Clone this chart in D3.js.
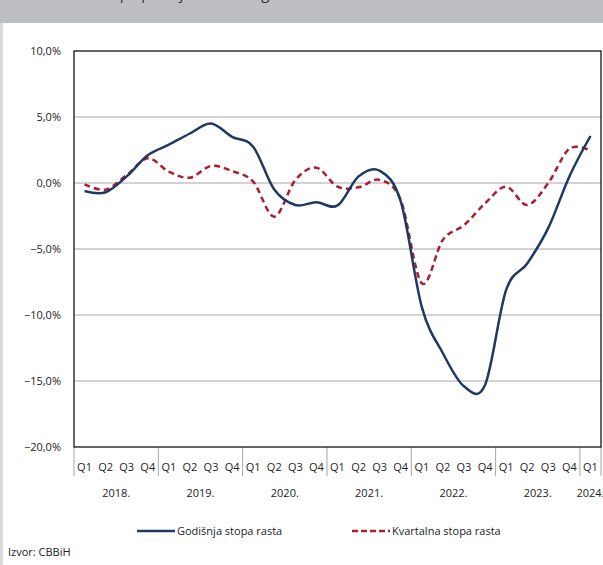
<!DOCTYPE html>
<html>
<head>
<meta charset="utf-8">
<script src="https://cdn.jsdelivr.net/npm/d3@7"></script>
<style>
  body { margin: 0; background: #fff; }
  svg { display: block; font-family: "Open Sans", "Noto Sans", sans-serif; }
</style>
</head>
<body>
<script>
// quarters on the x axis, 2018 Q1 .. 2024 Q1
var quarters = ["2018 Q1","2018 Q2","2018 Q3","2018 Q4",
                "2019 Q1","2019 Q2","2019 Q3","2019 Q4",
                "2020 Q1","2020 Q2","2020 Q3","2020 Q4",
                "2021 Q1","2021 Q2","2021 Q3","2021 Q4",
                "2022 Q1","2022 Q2","2022 Q3","2022 Q4",
                "2023 Q1","2023 Q2","2023 Q3","2023 Q4",
                "2024 Q1"];
var years = ["2018.", "2019.", "2020.", "2021.", "2022.", "2023.", "2024."];

// annual growth rate (%)
var godisnja = [-0.6, -0.7, 0.5, 2.1, 2.9, 3.75, 4.5, 3.5, 2.75, -0.5, -1.67, -1.46,
                -1.7, 0.5, 0.93, -1.4, -9.4, -12.9, -15.4, -15.3, -8.1, -6.1, -3.4, 0.5, 3.56];
// quarterly growth rate (%)
var kvartalna = [-0.1, -0.5, 0.6, 1.87, 0.86, 0.4, 1.29, 0.9, 0.1, -2.55, 0.23, 1.16,
                 -0.28, -0.33, 0.23, -1.3, -7.6, -4.3, -3.2, -1.54, -0.28, -1.67, 0, 2.6, 2.45];

var yTicks = [10, 5, 0, -5, -10, -15, -20];

var width = 603, height = 565;
var plot = {left: 74, right: 601, top: 51, bottom: 447};

var svg = d3.select("body").append("svg")
  .attr("width", width)
  .attr("height", height);

// grey title band (title cut off at the top)
svg.append("rect")
  .attr("x", 0).attr("y", 0)
  .attr("width", width).attr("height", 23)
  .attr("fill", "#bdbec2");
svg.append("text")
  .attr("x", 8).attr("y", -1)
  .style("font-size", "15px")
  .attr("fill", "#333")
  .text("Grafikon 12: Stopa promjene obima građevinskih radova u BiH");

// left border of the panel
svg.append("rect")
  .attr("x", 0).attr("y", 23)
  .attr("width", 3).attr("height", height - 23)
  .attr("fill", "#d9d9d9");

var x = d3.scaleBand()
  .domain(quarters)
  .range([plot.left, plot.right])
  .paddingInner(0).paddingOuter(0);

var y = d3.scaleLinear()
  .domain([-20, 10])
  .range([plot.bottom, plot.top]);

var fmt = function(d) { return d3.format(".1f")(d).replace(".", ",") + "%"; };

// gridlines
svg.append("g")
  .selectAll("line")
  .data(yTicks.filter(function(d) { return d > -20 && d < 10; }))
  .enter().append("line")
  .attr("x1", plot.left).attr("x2", plot.right)
  .attr("y1", function(d) { return y(d); })
  .attr("y2", function(d) { return y(d); })
  .attr("stroke", "#a6a6a6")
  .attr("stroke-width", 1);

// y axis labels
var yAxis = svg.append("g")
  .attr("transform", "translate(" + plot.left + ",0)")
  .call(d3.axisLeft(y).tickValues(yTicks).tickFormat(fmt).tickSize(0).tickPadding(13));
yAxis.select(".domain").remove();
yAxis.selectAll("text")
  .style("font-size", "11px")
  .style("font-family", "'Open Sans', sans-serif")
  .attr("fill", "#222");

// quarter labels
svg.append("g")
  .selectAll("text")
  .data(quarters)
  .enter().append("text")
  .attr("x", function(d) { return x(d) + x.bandwidth() / 2; })
  .attr("y", 471)
  .attr("text-anchor", "middle")
  .style("font-size", "11px")
  .attr("fill", "#222")
  .text(function(d) { return d.split(" ")[1]; });

// year separators and labels
var yearStarts = years.map(function(yr) {
  var first = quarters.filter(function(q) { return q.indexOf(yr.slice(0, 4)) === 0; });
  return {year: yr, first: first[0], last: first[first.length - 1]};
});

var sepX = yearStarts.map(function(d) { return x(d.first); }).concat([plot.right]);
svg.append("g")
  .selectAll("line")
  .data(sepX)
  .enter().append("line")
  .attr("x1", function(d) { return d; })
  .attr("x2", function(d) { return d; })
  .attr("y1", plot.bottom)
  .attr("y2", 476)
  .attr("stroke", "#a6a6a6")
  .attr("stroke-width", 1);

svg.append("g")
  .selectAll("text")
  .data(yearStarts)
  .enter().append("text")
  .attr("x", function(d) { return (x(d.first) + x(d.last) + x.bandwidth()) / 2; })
  .attr("y", 497)
  .attr("text-anchor", "middle")
  .style("font-size", "11px")
  .attr("fill", "#222")
  .text(function(d) { return d.year; });

// lines
var line = function(values) {
  return d3.line()
    .x(function(d, i) { return x(quarters[i]) + x.bandwidth() / 2; })
    .y(function(d) { return y(d); })
    .curve(d3.curveCatmullRom.alpha(0))(values);
};

svg.append("path")
  .attr("d", line(kvartalna))
  .attr("fill", "none")
  .attr("stroke", "#ab1f2c")
  .attr("stroke-width", 2.5)
  .attr("stroke-dasharray", "6,4");

svg.append("path")
  .attr("d", line(godisnja))
  .attr("fill", "none")
  .attr("stroke", "#1f3864")
  .attr("stroke-width", 2.5);

// plot frame
svg.append("rect")
  .attr("x", plot.left).attr("y", plot.top)
  .attr("width", plot.right - plot.left)
  .attr("height", plot.bottom - plot.top)
  .attr("fill", "none")
  .attr("stroke", "#000")
  .attr("stroke-width", 1.2);

// legend
var legend = [
  {name: "Godišnja stopa rasta", color: "#1f3864", dash: null, x: 137},
  {name: "Kvartalna stopa rasta", color: "#ab1f2c", dash: "6,3", x: 352}
];
var lg = svg.append("g").selectAll("g")
  .data(legend)
  .enter().append("g");
lg.append("line")
  .attr("x1", function(d) { return d.x; })
  .attr("x2", function(d) { return d.x + 38; })
  .attr("y1", 531).attr("y2", 531)
  .attr("stroke", function(d) { return d.color; })
  .attr("stroke-width", 2.5)
  .attr("stroke-dasharray", function(d) { return d.dash; });
lg.append("text")
  .attr("x", function(d) { return d.x + 40; })
  .attr("y", 535)
  .style("font-size", "11px")
  .attr("fill", "#222")
  .text(function(d) { return d.name; });

// source
svg.append("text")
  .attr("x", 8).attr("y", 556)
  .style("font-size", "11px")
  .attr("fill", "#222")
  .text("Izvor: CBBiH");
</script>
</body>
</html>
